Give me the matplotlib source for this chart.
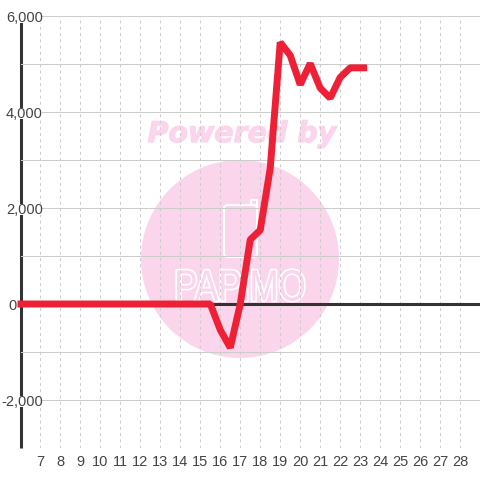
import matplotlib
matplotlib.use("Agg")
import matplotlib.pyplot as plt
from matplotlib.lines import Line2D
from matplotlib.patches import Circle, FancyBboxPatch
from matplotlib.ticker import FuncFormatter
from matplotlib.transforms import Affine2D
import matplotlib.patheffects as pe

plt.rcParams['font.family'] = ['Liberation Sans', 'DejaVu Sans']

days = [5.85, 6.5, 7, 8, 9, 10, 11, 12, 13, 14, 15, 15.5, 16, 16.5, 17, 17.5, 18, 18.5,
        19, 19.5, 20, 20.5, 21, 21.5, 22, 22.5, 23, 23.35]
values = [0, 0, 0, 0, 0, 0, 0, 0, 0, 0, 0, 0, -540, -910, 0, 1340, 1540, 2830,
          5450, 5180, 4570, 5010, 4500, 4290, 4720, 4920, 4920, 4920]
x_ticks = list(range(7, 29))
y_ticks = [-2000, 0, 2000, 4000, 6000]
y_grid = [-3000, -1000, 1000, 3000, 5000]

W = H = 480
fig = plt.figure(figsize=(4.8, 4.8), dpi=100, facecolor='white')
ax = fig.add_axes([20.5 / W, 1 - 448 / H, (480 - 20.5) / W, (448 - 16) / H])
ax.patch.set_alpha(0)
ax.set_xlim(6, 29)
ax.set_ylim(-3000, 6000)


class Squeezed(pe.AbstractPathEffect):
    """Narrows a text horizontally about a centre, then fills and outlines it."""

    def __init__(self, centre, factor, edge, width):
        super().__init__()
        self.squeeze = Affine2D().translate(-centre, 0).scale(factor, 1).translate(centre, 0)
        self.edge = edge
        self.width = width

    def draw_path(self, renderer, gc, tpath, affine, rgbFace=None):
        gc0 = renderer.new_gc()
        gc0.copy_properties(gc)
        gc0.set_foreground(self.edge)
        gc0.set_linewidth(self.width)
        squeezed = affine + self.squeeze
        renderer.draw_path(gc0, tpath, squeezed, rgbFace)
        gc0.restore()
        gc1 = renderer.new_gc()
        gc1.copy_properties(gc)
        gc1.set_linewidth(0)
        renderer.draw_path(gc1, tpath, squeezed, rgbFace)
        gc1.restore()


# watermark
pink = '#fbd5ec'
fig.add_artist(Circle((240 / W, 1 - 259 / H), 99 / W, transform=fig.transFigure,
                      facecolor=pink, edgecolor='none', zorder=-5))
fig.text(242 / W, 1 - 134 / H, 'Powered by', color=pink, fontsize=20.5, fontweight='bold',
         fontstyle='italic', family='DejaVu Sans', ha='center', va='center', zorder=-4,
         path_effects=[pe.withStroke(linewidth=0.9, foreground=pink)])
fig.add_artist(FancyBboxPatch((224 / W, 1 - 257 / H), 33 / W, 52 / H,
                              boxstyle='round,pad=0,rounding_size=0.008',
                              transform=fig.transFigure, facecolor=pink,
                              edgecolor='white', linewidth=1.5, zorder=-4))
fig.add_artist(Line2D([251 / W, 251 / W, 257 / W, 257 / W],
                      [1 - 205 / H, 1 - 200 / H, 1 - 200 / H, 1 - 207 / H],
                      transform=fig.transFigure, color='white', linewidth=1.5,
                      solid_joinstyle='round', zorder=-3))
fig.text(240 / W, 1 - 289 / H, 'PAPiMO', color=pink, fontsize=31.5,
         ha='center', va='center', zorder=-4,
         path_effects=[Squeezed(240, 0.8, 'white', 2.4)])

# grid
ax.set_yticks(y_grid, minor=True)
ax.set_xticks(x_ticks)
ax.set_yticks(y_ticks)
ax.yaxis.set_major_formatter(FuncFormatter(lambda v, _: f'{int(v):,}'))
ax.grid(True, axis='y', which='both', color='#cccccc', linewidth=0.75)
ax.grid(True, axis='x', which='major', color='#cccccc', linewidth=0.75, linestyle=(0, (2.8, 3.2)))
ax.xaxis.set_zorder(0.5)
ax.yaxis.set_zorder(2.6)

for s in ['top', 'right', 'bottom']:
    ax.spines[s].set_visible(False)
ax.spines['left'].set_color('#333333')
ax.spines['left'].set_linewidth(2.2)
ax.spines['left'].set_capstyle('butt')
ax.spines['left'].set_zorder(1.5)

ax.axhline(0, color='#333333', linewidth=2.2, zorder=2)
ax.plot(days, values, color='#ee2036', linewidth=5, solid_joinstyle='bevel',
        solid_capstyle='butt', zorder=3, clip_on=False)

ax.tick_params(axis='both', which='both', length=0)
ax.tick_params(axis='x', labelsize=10.5, labelcolor='#444444', pad=4.7)
ax.tick_params(axis='y', labelsize=10.5, labelcolor='#444444', pad=-16)

for value, tick in zip(y_ticks, ax.yaxis.get_major_ticks()):
    if value == 0:
        tick.set_pad(3)
        tick.gridline.set_visible(False)
    else:
        tick.label1.set_bbox(dict(facecolor='white', edgecolor='none', pad=-0.7))

fig.savefig('out.png', dpi=100)
